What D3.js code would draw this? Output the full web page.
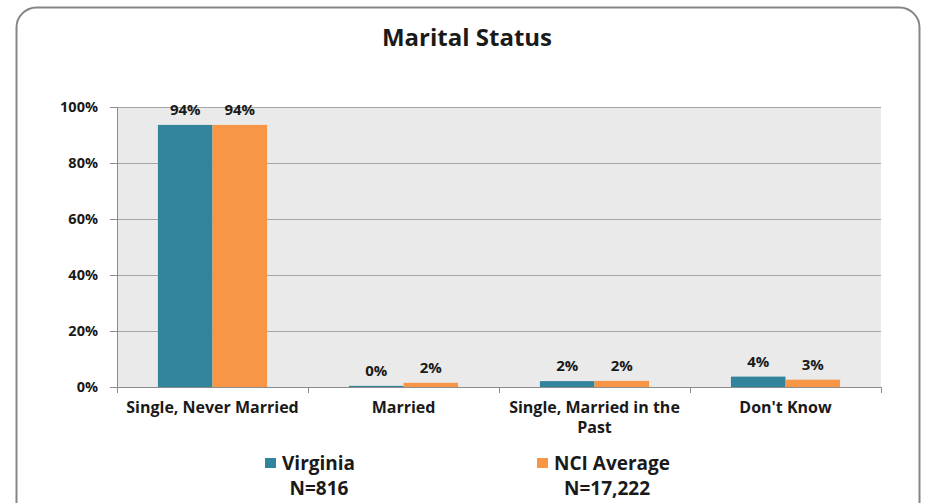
<!DOCTYPE html>
<html lang="en">
<head>
<meta charset="UTF-8">
<title>Marital Status</title>
<script src="https://d3js.org/d3.v7.min.js"></script>
<style>
  body { margin: 0; background: #fff; }
  text { font-family: "Open Sans", "DejaVu Sans", sans-serif; font-weight: bold; fill: #1a1a1a; }
</style>
</head>
<body>
<div id="chart"></div>
<script>
// data
var categories = ["Single, Never Married", "Married", "Single, Married in the Past", "Don't Know"];
var seriesNames = ["Virginia", "NCI Average"];
var seriesN = ["N=816", "N=17,222"];
var virginia = [93.6, 0.4, 2.1, 3.7];
var nciAverage = [93.6, 1.5, 2.2, 2.6];
var yTicks = [0, 20, 40, 60, 80, 100];
var colors = ["#31849b", "#f79646"];

var W = 928, H = 503;
var margin = {top: 107, right: 47, bottom: 116, left: 117},
    width = W - margin.left - margin.right,
    height = H - margin.top - margin.bottom;

var svg = d3.select("#chart").append("svg")
    .attr("width", W)
    .attr("height", H);

// outer frame
svg.append("rect")
    .attr("x", 16.5).attr("y", 7.5)
    .attr("width", 903).attr("height", 530)
    .attr("rx", 20).attr("ry", 20)
    .attr("fill", "none")
    .attr("stroke", "#858585")
    .attr("stroke-width", 2);

svg.append("text")
    .attr("x", 467).attr("y", 46)
    .attr("text-anchor", "middle")
    .style("font-size", "24px")
    .text("Marital Status");

var g = svg.append("g")
    .attr("transform", "translate(" + margin.left + "," + margin.top + ")");

var x0 = d3.scaleBand().domain(categories).range([0, width]).paddingInner(0).paddingOuter(0);
var x1 = d3.scaleBand().domain(seriesNames).range([0, x0.bandwidth()]).paddingOuter(0.75).paddingInner(0);
var y = d3.scaleLinear().domain([0, 100]).range([height, 0]);

// plot background
g.append("rect")
    .attr("width", width).attr("height", height)
    .attr("fill", "#eaeaea");

// gridlines
g.selectAll(".grid").data(yTicks.slice(1)).enter().append("line")
    .attr("x1", 0).attr("x2", width)
    .attr("y1", function(d) { return y(d) + 0.5; })
    .attr("y2", function(d) { return y(d) + 0.5; })
    .attr("stroke", "#a6a6a6");

// y axis
var yAxis = g.append("g")
    .call(d3.axisLeft(y).tickValues(yTicks).tickFormat(function(d) { return d + "%"; }).tickSize(7).tickPadding(12));
yAxis.select(".domain").attr("stroke", "#8c8c8c");
yAxis.selectAll(".tick line").attr("stroke", "#8c8c8c");
yAxis.selectAll("text").style("font-size", "14.5px").attr("fill", "#1a1a1a");

// x axis
var xAxis = g.append("g")
    .attr("transform", "translate(0," + height + ")")
    .call(d3.axisBottom(x0).tickSize(0).tickFormat(""));
xAxis.select(".domain").attr("stroke", "#8c8c8c");
xAxis.selectAll(".edge").data(d3.range(categories.length + 1)).enter().append("line")
    .attr("x1", function(i) { return i * x0.step() + 0.5; })
    .attr("x2", function(i) { return i * x0.step() + 0.5; })
    .attr("y1", 0).attr("y2", 6)
    .attr("stroke", "#8c8c8c");

// category labels (with wrapping)
var catLines = {"Single, Married in the Past": ["Single, Married in the", "Past"]};
categories.forEach(function(c) {
  var lines = catLines[c] || [c];
  var t = g.append("text")
      .attr("x", x0(c) + x0.bandwidth() / 2)
      .attr("y", height + 26)
      .attr("text-anchor", "middle")
      .style("font-size", "16px");
  lines.forEach(function(l, i) {
    t.append("tspan").attr("x", x0(c) + x0.bandwidth() / 2).attr("dy", i ? 20 : 0).text(l);
  });
});

// bars
var series = [virginia, nciAverage];
series.forEach(function(vals, s) {
  var grp = g.append("g");
  grp.selectAll("rect").data(vals).enter().append("rect")
      .attr("x", function(d, i) { return x0(categories[i]) + x1(seriesNames[s]); })
      .attr("y", function(d) { return y(d); })
      .attr("width", x1.bandwidth())
      .attr("height", function(d) { return height - y(d); })
      .attr("fill", colors[s]);
  grp.selectAll("text").data(vals).enter().append("text")
      .attr("x", function(d, i) { return x0(categories[i]) + x1(seriesNames[s]) + x1.bandwidth() / 2; })
      .attr("y", function(d) { return y(d) - 10; })
      .attr("text-anchor", "middle")
      .style("font-size", "15px")
      .text(function(d) { return Math.round(d) + "%"; });
});

// legend
var legendX = [265, 537];
seriesNames.forEach(function(name, i) {
  var lg = svg.append("g");
  lg.append("rect")
      .attr("x", legendX[i]).attr("y", 458)
      .attr("width", 11).attr("height", 10)
      .attr("fill", colors[i]);
  lg.append("text")
      .attr("x", legendX[i] + 17).attr("y", 470)
      .style("font-size", "19px")
      .text(name);
  lg.append("text")
      .attr("x", legendX[i] + (i ? 70 : 54)).attr("y", 495)
      .attr("text-anchor", "middle")
      .style("font-size", "19px")
      .text(seriesN[i]);
});
</script>
</body>
</html>
